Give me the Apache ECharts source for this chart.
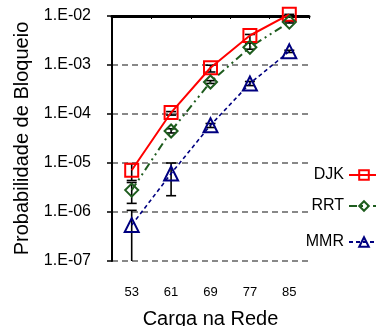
<!DOCTYPE html>
<html><head><meta charset="utf-8">
<script src="https://cdn.jsdelivr.net/npm/echarts@6/dist/echarts.min.js"></script>
<style>html,body{margin:0;padding:0;background:#fff}#c{width:376px;height:326px}</style>
</head><body><div id="c"></div>
<script>
const categories = ['53', '61', '69', '77', '85'];
const yTickLabels = ['1.E-07', '1.E-06', '1.E-05', '1.E-04', '1.E-03', '1.E-02'];
const seriesNames = ['DJK', 'RRT', 'MMR'];
const djk = [7.1e-6, 1.07e-4, 8.8e-4, 4.0e-3, 1.08e-2];
const djkLow = [4.4e-6, 9.5e-5, 7.2e-4, 2.9e-3, 1.0e-2];
const djkHigh = [9.7e-6, 1.12e-4, 9.9e-4, 4.2e-3, 1.08e-2];
const rrt = [2.8e-6, 4.5e-5, 4.5e-4, 2.3e-3, 7.5e-3];
const rrtLow = [1.5e-6, 4.1e-5, 4.2e-4, 2.1e-3, 7.2e-3];
const rrtHigh = [4.0e-6, 5.0e-5, 4.8e-4, 2.8e-3, 7.8e-3];
const mmr = [5.4e-7, 6.1e-6, 5.9e-5, 4.2e-4, 1.9e-3];
const mmrLow = [1e-7, 2.15e-6, 5.3e-5, 3.8e-4, 1.8e-3];
const mmrHigh = [1.08e-6, 1.0e-5, 6.4e-5, 4.6e-4, 2.0e-3];

const FONT = "'Liberation Sans', Arial, sans-serif";
const Y_MIN = 1e-7, Y_MAX = 1e-2;

function errRender(params, api) {
  const x = api.value(0);
  const lo = api.value(1), hi = api.value(2);
  const pLo = api.coord([x, lo]);
  const pHi = api.coord([x, hi]);
  const w = 5;
  const style = { stroke: '#000', lineWidth: 1.6, fill: null };
  const children = [
    { type: 'line', shape: { x1: pLo[0], y1: pLo[1], x2: pHi[0], y2: pHi[1] }, style: style },
    { type: 'line', shape: { x1: pHi[0] - w, y1: pHi[1], x2: pHi[0] + w, y2: pHi[1] }, style: style }
  ];
  if (lo > Y_MIN) {
    children.push({ type: 'line', shape: { x1: pLo[0] - w, y1: pLo[1], x2: pLo[0] + w, y2: pLo[1] }, style: style });
  }
  return { type: 'group', children: children };
}
function errData(lo, hi) { return categories.map((c, i) => [i, lo[i], hi[i]]); }

const chart = echarts.init(document.getElementById('c'), null, { renderer: 'canvas' });
const legendBase = {
  orient: 'horizontal', align: 'right', right: -4, padding: 0,
  itemWidth: 30, itemHeight: 12,
  textStyle: { fontFamily: FONT, fontSize: 16, color: '#000' }
};
chart.setOption({
  animation: false,
  textStyle: { fontFamily: FONT },
  grid: { left: 112, right: 67, top: 16, bottom: 65, containLabel: false, outerBoundsMode: 'none' },
  legend: [
    Object.assign({}, legendBase, { data: [seriesNames[0]], top: 167 }),
    Object.assign({}, legendBase, { data: [seriesNames[1]], top: 198 }),
    Object.assign({}, legendBase, { data: [seriesNames[2]], top: 234 })
  ],
  xAxis: [{
    type: 'category', data: categories, position: 'bottom', boundaryGap: true,
    axisLine: { show: false }, axisTick: { show: false },
    axisLabel: { fontFamily: FONT, fontSize: 13, color: '#000', margin: 25 },
    name: 'Carga na Rede', nameLocation: 'middle', nameGap: 48,
    nameTextStyle: { fontFamily: FONT, fontSize: 20, color: '#000' },
    splitLine: { show: false }
  }, {
    type: 'category', data: categories, position: 'top', boundaryGap: true,
    axisLine: { show: true, lineStyle: { color: '#000', width: 3 } },
    axisTick: { show: true, inside: true, length: 3, lineStyle: { color: '#000', width: 1 } },
    axisLabel: { show: false }, splitLine: { show: false }
  }],
  yAxis: {
    type: 'log', logBase: 10, min: Y_MIN, max: Y_MAX, interval: 1,
    axisLine: { show: true, lineStyle: { color: '#000', width: 2 } },
    axisTick: { show: true, length: 5, lineStyle: { color: '#000', width: 1.5 } },
    axisLabel: {
      fontFamily: FONT, fontSize: 16, color: '#000', margin: 21,
      formatter: function (v) {
        const idx = Math.round(Math.log10(v)) + 7;
        return yTickLabels[idx] !== undefined ? yTickLabels[idx] : '';
      }
    },
    splitLine: { show: true, lineStyle: { color: '#888', width: 2, type: [6, 4] } },
    name: 'Probabilidade de Bloqueio', nameLocation: 'middle', nameGap: 76,
    nameTextStyle: { fontFamily: FONT, fontSize: 20, color: '#000' }
  },
  series: [
    { type: 'custom', name: 'errDJK', renderItem: errRender, data: errData(djkLow, djkHigh), encode: { x: 0, y: [1, 2] }, z: 3, clip: false },
    { type: 'custom', name: 'errRRT', renderItem: errRender, data: errData(rrtLow, rrtHigh), encode: { x: 0, y: [1, 2] }, z: 3, clip: false },
    { type: 'custom', name: 'errMMR', renderItem: errRender, data: errData(mmrLow, mmrHigh), encode: { x: 0, y: [1, 2] }, z: 3, clip: false },
    {
      type: 'line', name: seriesNames[0], data: djk, clip: false, z: 4,
      symbol: 'rect', symbolSize: 13,
      lineStyle: { color: '#FF0000', width: 2, type: 'solid' },
      itemStyle: { color: 'rgba(255,255,255,0)', borderColor: '#FF0000', borderWidth: 2 }
    },
    {
      type: 'line', name: seriesNames[1], data: rrt, clip: false, z: 4,
      symbol: 'diamond', symbolSize: 13,
      lineStyle: { color: '#1E5C1E', width: 2, type: [8, 4, 2, 4, 2, 4] },
      itemStyle: { color: 'rgba(255,255,255,0)', borderColor: '#1E5C1E', borderWidth: 2 }
    },
    {
      type: 'line', name: seriesNames[2], data: mmr, clip: false, z: 4,
      symbol: 'triangle', symbolSize: 14,
      lineStyle: { color: '#000080', width: 1.6, type: [4, 3] },
      itemStyle: { color: 'rgba(255,255,255,0)', borderColor: '#000080', borderWidth: 2 }
    }
  ]
});
</script>
</body></html>
